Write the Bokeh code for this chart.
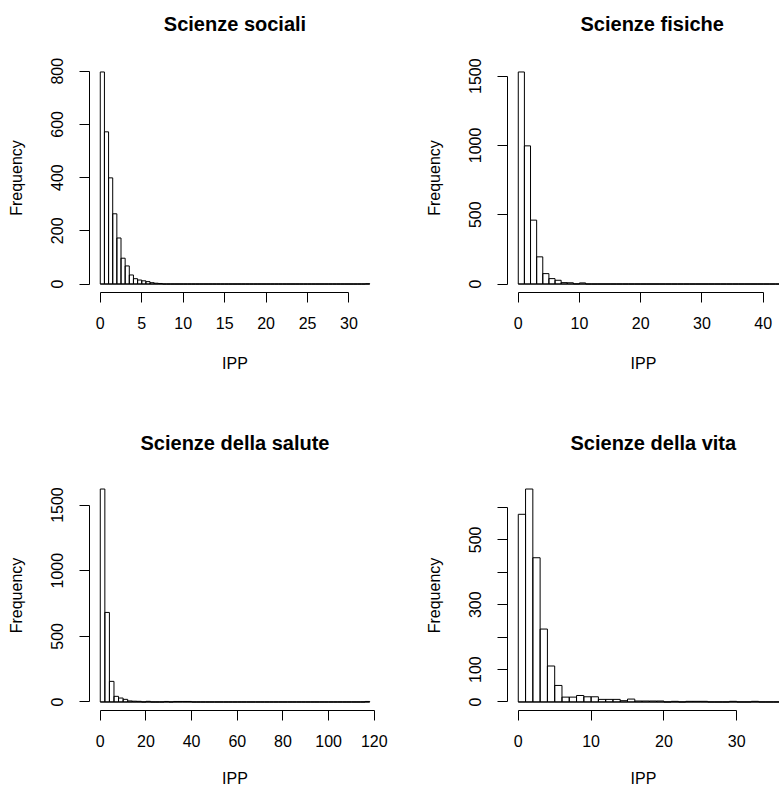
from bokeh.plotting import figure
from bokeh.layouts import row, column
from bokeh.models import Range1d, FixedTicker, Title
from bokeh.embed import file_html
from bokeh.resources import INLINE

# ---------------- data (histogram counts) ----------------
soc_title = "Scienze sociali"
soc_bin = 0.5
soc_counts = [797, 572, 399, 264, 173, 97, 68, 34, 20, 15,
              12, 9, 5, 3, 2, 0, 0, 0, 0, 0,
              0, 0, 0, 0, 0, 0, 0, 0, 0, 0,
              0, 0, 0, 0, 0, 0, 0, 0, 0, 0,
              0, 0, 0, 0, 0, 0, 0, 0, 0, 0,
              0, 0, 0, 0, 0, 0, 0, 0, 0, 0,
              0, 0, 0, 0, 1]
soc_xticks = [0, 5, 10, 15, 20, 25, 30]
soc_yticks = [0, 200, 400, 600, 800]
soc_ylabels = ["0", "200", "400", "600", "800"]

fis_title = "Scienze fisiche"
fis_bin = 1
fis_counts = [1530, 997, 461, 196, 75, 39, 27, 10, 9, 1,
              8, 0, 0, 0, 0, 0, 0, 0, 0, 0,
              0, 0, 0, 0, 0, 0, 0, 0, 0, 0,
              0, 0, 0, 0, 0, 0, 0, 0, 0, 0,
              0, 0, 0, 1]
fis_xticks = [0, 10, 20, 30, 40]
fis_yticks = [0, 500, 1000, 1500]
fis_ylabels = ["0", "500", "1000", "1500"]

sal_title = "Scienze della salute"
sal_bin = 2
sal_counts = [1622, 682, 157, 43, 30, 20, 8, 6, 5, 0,
              5, 0, 0, 0, 4, 0, 4, 4, 4, 4,
              0, 0, 0, 0, 0, 0, 0, 0, 0, 0,
              0, 0, 0, 0, 0, 0, 0, 0, 0, 0,
              0, 0, 0, 0, 0, 0, 0, 0, 0, 0,
              0, 0, 0, 0, 0, 0, 0, 0, 4]
sal_xticks = [0, 20, 40, 60, 80, 100, 120]
sal_yticks = [0, 500, 1000, 1500]
sal_ylabels = ["0", "500", "1000", "1500"]

vit_title = "Scienze della vita"
vit_bin = 1
vit_counts = [579, 657, 445, 225, 111, 51, 15, 15, 20, 16,
              16, 8, 8, 8, 4, 9, 3, 3, 3, 3,
              0, 2, 0, 2, 2, 2, 0, 0, 0, 2,
              0, 0, 2, 0, 0, 0, 1]
vit_xticks = [0, 10, 20, 30]
vit_yticks = [0, 100, 200, 300, 400, 500, 600]
vit_ylabels = ["0", "100", "", "300", "", "500", ""]

x_label = "IPP"
y_label = "Frequency"

FONT = "Liberation Sans"


def panel(title, bin_w, counts, xticks, yticks, ylabels, width, height,
          mb_l, mb_r, mb_t, mb_b, full_frame, title_align, title_offset,
          title_standoff, spacer_standoff, xlab_standoff):
    n = len(counts)
    lefts = [i * bin_w for i in range(n)]
    rights = [(i + 1) * bin_w for i in range(n)]
    lo, hi = lefts[0], rights[-1]
    span = (hi - lo) * 1.08
    x0 = lo - 0.04 * (hi - lo)
    frame_w = width - mb_l - mb_r
    x1 = x0 + span * frame_w / full_frame
    ymax = max(counts)
    p = figure(width=width, height=height,
               x_range=Range1d(x0, x1),
               y_range=Range1d(-0.04 * ymax, 1.04 * ymax),
               output_backend="svg", toolbar_location=None,
               min_border_left=mb_l, min_border_right=mb_r,
               min_border_top=mb_t, min_border_bottom=mb_b,
               background_fill_color="white", border_fill_color="white")
    p.outline_line_color = None
    p.xgrid.grid_line_color = None
    p.ygrid.grid_line_color = None

    p.quad(left=lefts, right=rights, bottom=[0] * n, top=counts,
           fill_color=None, line_color="black", line_width=1)
    p.line(x=[lo, hi], y=[0, 0], line_color="black", line_width=1)

    # title (a blank spacer title sits between the frame and the real title)
    if spacer_standoff is not None:
        p.add_layout(Title(text=" ", text_font_size="10px",
                           standoff=spacer_standoff), "above")
    p.title.text = title
    p.title.text_font = FONT
    p.title.text_font_size = "20px"
    p.title.text_font_style = "bold"
    p.title.text_color = "black"
    p.title.align = title_align
    p.title.offset = title_offset
    p.title.standoff = title_standoff

    vis_x = [t for t in xticks if t <= x1]
    p.xaxis.ticker = FixedTicker(ticks=xticks)
    p.xaxis.bounds = (vis_x[0], vis_x[-1])
    p.yaxis.ticker = FixedTicker(ticks=yticks)
    p.yaxis.bounds = (yticks[0], yticks[-1])
    p.yaxis.major_label_overrides = {t: l for t, l in zip(yticks, ylabels)}
    p.yaxis.major_label_orientation = "vertical"

    for ax in (p.xaxis[0], p.yaxis[0]):
        ax.axis_line_color = "black"
        ax.axis_line_width = 1
        ax.major_tick_line_color = "black"
        ax.major_tick_in = 0
        ax.major_tick_out = 10
        ax.minor_tick_line_color = None
        ax.major_label_text_font = FONT
        ax.major_label_text_font_size = "16px"
        ax.major_label_text_color = "black"
        ax.axis_label_text_font = FONT
        ax.axis_label_text_font_size = "16px"
        ax.axis_label_text_font_style = "normal"
        ax.axis_label_text_color = "black"

    p.xaxis.major_label_standoff = 14
    p.yaxis.major_label_standoff = 16
    p.xaxis.axis_label = x_label
    p.yaxis.axis_label = y_label
    p.xaxis.axis_label_standoff = xlab_standoff
    p.yaxis.axis_label_standoff = 24
    return p


FULL = 291
p1 = panel(soc_title, soc_bin, soc_counts, soc_xticks, soc_yticks, soc_ylabels,
           418, 400, 89, 38, 63, 108, FULL, "center", 0, 10, 11, 23)
p2 = panel(fis_title, fis_bin, fis_counts, fis_xticks, fis_yticks, fis_ylabels,
           361, 400, 89, 0, 63, 108, FULL, "left", 73, 10, 11, 23)
p3 = panel(sal_title, sal_bin, sal_counts, sal_xticks, sal_yticks, sal_ylabels,
           418, 390, 89, 38, 80, 80, FULL, "center", 0, 54, None, 20)
p4 = panel(vit_title, vit_bin, vit_counts, vit_xticks, vit_yticks, vit_ylabels,
           361, 390, 89, 0, 80, 80, FULL, "left", 63, 54, None, 20)

layout = column(row(p1, p2), row(p3, p4))

with open("out.html", "w") as f:
    f.write(file_html(layout, INLINE))
